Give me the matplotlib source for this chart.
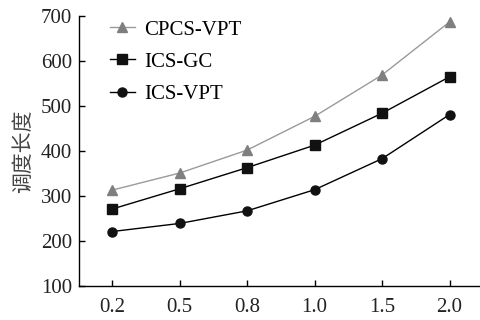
import numpy as np
import matplotlib.pyplot as plt

x_labels = ['0.2', '0.5', '0.8', '1.0', '1.5', '2.0']
cpcs_vpt = [313, 351, 402, 477, 569, 687]
ics_gc = [271, 316, 363, 413, 484, 565]
ics_vpt = [221, 239, 267, 314, 383, 481]

plt.rcParams['font.family'] = ['Liberation Serif', 'DejaVu Serif']

fig = plt.figure(figsize=(4.8, 3.2), dpi=100)
ax = fig.add_axes([79/480, 1 - 286/320, 401/480, 270/320])

x = np.arange(len(x_labels))
ax.plot(x, cpcs_vpt, color='#9a9a9a', lw=1.0, marker='^', ms=7.5,
        mfc='#7f7f7f', mec='#7f7f7f', label='CPCS-VPT')
ax.plot(x, ics_gc, color='black', lw=1.0, marker='s', ms=6.5,
        mfc='#111111', mec='#111111', label='ICS-GC')
ax.plot(x, ics_vpt, color='black', lw=1.0, marker='o', ms=6.5,
        mfc='#111111', mec='#111111', label='ICS-VPT')

ax.set_xlim(-0.49, 5.45)
ax.set_ylim(100, 700)
ax.set_xticks(x)
ax.set_xticklabels(x_labels)
ax.set_yticks(range(100, 701, 100))
ax.tick_params(direction='in', length=4, labelsize=15, width=1,
               labelcolor='#222222')
ax.tick_params(axis='x', pad=9)
ax.tick_params(axis='y', pad=5)
ax.spines['top'].set_visible(False)
ax.spines['right'].set_visible(False)
for s in ['left', 'bottom']:
    ax.spines[s].set_linewidth(1.0)

ax.set_ylabel('调度长度', fontsize=15, family=['Noto Sans CJK SC', 'DejaVu Sans'],
              color='#444444', labelpad=5)

ax.legend(loc='upper left', bbox_to_anchor=(0.077, 0.985), frameon=False,
          fontsize=15, handlelength=1.2, handletextpad=0.45, labelspacing=0.6,
          borderpad=0, borderaxespad=0)

fig.savefig('out.png', dpi=100)
